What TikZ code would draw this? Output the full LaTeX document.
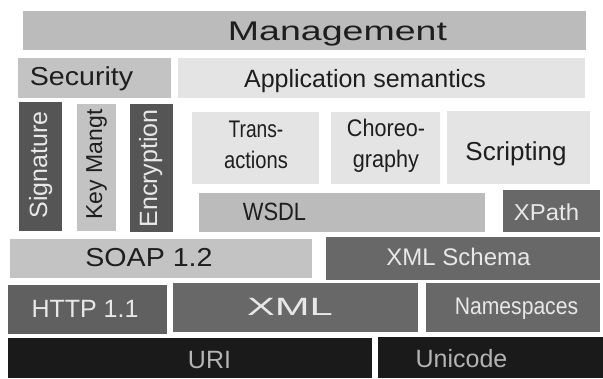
\documentclass[tikz,border=0pt]{standalone}
\usepackage{graphicx}
\usepackage{fontspec}
\setmainfont{Liberation Sans}

\definecolor{palegray}{HTML}{E4E4E4}
\definecolor{lightgray}{HTML}{C3C3C3}
\definecolor{softgray}{HTML}{BBBBBB}
\definecolor{midgray}{HTML}{686868}
\definecolor{darkgray}{HTML}{555555}
\definecolor{nearblack}{HTML}{1A1A1A}
\definecolor{inkdark}{HTML}{1E1E1E}
\definecolor{inklight}{HTML}{E8E8E8}
\definecolor{inkgrey}{HTML}{B4B4B4}

\newcommand{\hstretch}[2]{\scalebox{#1}[1]{#2}}
\newcommand{\fsz}[1]{\fontsize{#1}{#1}\selectfont}

\begin{document}
\begin{tikzpicture}[x=1pt,y=-1pt,
  blk/.style={inner sep=0pt,outer sep=0pt},
  lbl/.style={inner sep=0pt,anchor=base,text=inkdark,font=\fsz{25}},
  wlbl/.style={lbl,text=inklight}]
 \useasboundingbox (0,0) rectangle (603,378);
 % Top layers
 \node[blk,fill=softgray,minimum width=563pt,minimum height=39pt] (mgmt) at (304.5,30.5) {};
 \node[lbl,font=\fsz{27}] (mgmt-t) at (337.5,40) {\hstretch{1.39}{Management}};
 \node[blk,fill=lightgray,minimum width=153pt,minimum height=40pt] (sec) at (94.5,78) {};
 \node[lbl,font=\fsz{26}] (sec-t) at (81.5,85) {\hstretch{1.1}{Security}};
 \node[blk,fill=palegray,minimum width=407pt,minimum height=40pt] (appsem) at (381.5,78) {};
 \node[lbl] (appsem-t) at (365,87) {Application semantics};
 % Security columns
 \node[blk,fill=darkgray,minimum width=43pt,minimum height=129pt] (sig) at (40.5,166.5) {};
 \node[wlbl,rotate=90] (sig-t) at (47,165) {Signature};
 \node[blk,fill=lightgray,minimum width=39pt,minimum height=127pt] (keym) at (96.5,167.5) {};
 \node[lbl,rotate=90,font=\fsz{23}] (keym-t) at (102,164.5) {Key Mangt};
 \node[blk,fill=darkgray,minimum width=43pt,minimum height=128pt] (enc) at (151.5,168) {};
 \node[wlbl,rotate=90] (enc-t) at (157,168.5) {Encryption};
 % Composition
 \node[blk,fill=palegray,minimum width=127pt,minimum height=72pt] (trans) at (255.5,148) {};
 \node[lbl,align=center,font={\fontsize{24}{31}\selectfont}] (trans-t) at (256,168)
   {\hstretch{0.8}{Trans-}\\\hstretch{0.84}{actions}};
 \node[blk,fill=palegray,minimum width=109pt,minimum height=72pt] (choreo) at (385.5,148) {};
 \node[lbl,align=center,font={\fontsize{24}{31}\selectfont}] (choreo-t) at (386,167)
   {\hstretch{0.9}{Choreo-}\\\hstretch{0.9}{graphy}};
 \node[blk,fill=palegray,minimum width=143pt,minimum height=73pt] (script) at (518.5,147.5) {};
 \node[lbl,font=\fsz{26}] (script-t) at (516,160) {Scripting};
 % Description
 \node[blk,fill=softgray,minimum width=286pt,minimum height=39pt] (wsdl) at (342,212.5) {};
 \node[lbl] (wsdl-t) at (274.5,220) {\hstretch{0.875}{WSDL}};
 \node[blk,fill=midgray,minimum width=97pt,minimum height=42pt] (xpath) at (551.5,211) {};
 \node[wlbl,font=\fsz{23}] (xpath-t) at (546.5,220) {\hstretch{1.04}{XPath}};
 % Messaging and base
 \node[blk,fill=lightgray,minimum width=302pt,minimum height=39pt] (soap) at (161,258.5) {};
 \node[lbl,font=\fsz{26}] (soap-t) at (149,266) {\hstretch{1.1}{SOAP 1.2}};
 \node[blk,fill=midgray,minimum width=274pt,minimum height=43pt] (schema) at (463,258.5) {};
 \node[wlbl,font=\fsz{24}] (schema-t) at (458.5,265) {XML Schema};
 \node[blk,fill=midgray!105,minimum width=159pt,minimum height=49pt] (http) at (87.5,309.5) {};
 \node[wlbl] (http-t) at (85,317) {HTTP 1.1};
 \node[blk,fill=midgray,minimum width=245pt,minimum height=49pt] (xml) at (295.5,307.5) {};
 \node[wlbl] (xml-t) at (290,315) {\hstretch{1.67}{XML}};
 \node[blk,fill=midgray,minimum width=174pt,minimum height=49pt] (ns) at (513,307.5) {};
 \node[wlbl,font=\fsz{24}] (ns-t) at (516.5,314) {\hstretch{0.88}{Namespaces}};
 \node[blk,fill=nearblack,minimum width=364pt,minimum height=40pt] (uri) at (190,358) {};
 \node[lbl,text=inkgrey] (uri-t) at (209.5,368) {URI};
 \node[blk,fill=nearblack,minimum width=225pt,minimum height=41pt] (unicode) at (490.5,357.5) {};
 \node[lbl,text=inkgrey] (unicode-t) at (461.5,367) {Unicode};
\end{tikzpicture}
\end{document}
